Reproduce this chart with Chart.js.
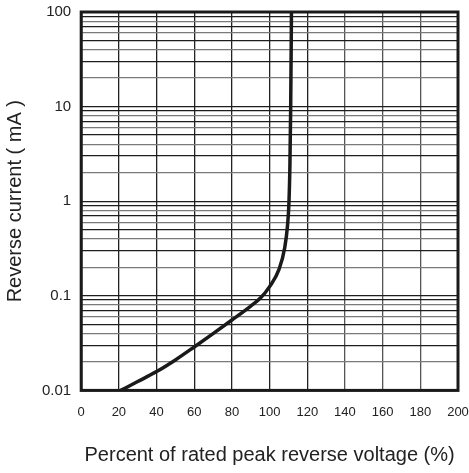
<!DOCTYPE html>
<html>
<head>
<meta charset="utf-8">
<script src="https://cdn.jsdelivr.net/npm/chart.js@4.4.0/dist/chart.umd.min.js"></script>
<style>
  body { margin: 0; background: #fff; }
  #wrap { width: 469px; height: 473px; }
</style>
</head>
<body>
<div id="wrap"><canvas id="myChart" width="469" height="473"></canvas></div>
<script>
// curve
var voltage = [21, 30, 40, 50, 60, 70, 80, 90, 95, 100, 105, 108, 109.5, 110.3, 110.8, 111.2, 111.6];
var current = [0.01, 0.0124, 0.0158, 0.021, 0.0288, 0.0398, 0.0555, 0.078, 0.094, 0.125, 0.19, 0.32, 0.55, 1, 2.5, 10, 100];

var xTicks = [0, 20, 40, 60, 80, 100, 120, 140, 160, 180, 200];
var decades = [0.01, 0.1, 1, 10, 100];
var multiples = [1, 2, 3, 4, 5, 6, 7, 8, 9];

var yTicks = [];
decades.forEach(function (d, i) {
  if (i === decades.length - 1) {
    yTicks.push(d);
  } else {
    multiples.forEach(function (m) { yTicks.push(+(d * m).toPrecision(3)); });
  }
});

var points = voltage.map(function (v, i) { return { x: v, y: current[i] }; });

const frame = {
  id: 'frame',
  afterDatasetsDraw(chart) {
    const { ctx, chartArea: { top, left, right, bottom } } = chart;
    ctx.save();
    ctx.strokeStyle = '#1a1a1a';
    ctx.lineWidth = 3;
    ctx.strokeRect(left, top, right - left, bottom - top);
    ctx.restore();
  }
};

var ctx = document.getElementById('myChart');
var myChart = new Chart(ctx, {
  type: 'scatter',
  data: {
    datasets: [{
      data: points,
      showLine: true,
      borderColor: '#1a1a1a',
      borderWidth: 3.5,
      pointRadius: 0,
      cubicInterpolationMode: 'monotone'
    }]
  },
  options: {
    responsive: false,
    animation: false,
    layout: { padding: { top: 3, right: 0, left: 3, bottom: 6 } },
    plugins: {
      legend: { display: false },
      tooltip: { enabled: false }
    },
    scales: {
      x: {
        type: 'linear',
        min: 0,
        max: 200,
        afterBuildTicks: function (axis) {
          axis.ticks = xTicks.map(function (v) { return { value: v }; });
        },
        afterFit: function (axis) {
          axis.paddingRight = 11;
        },
        grid: {
          lineWidth: 1.3,
          drawTicks: false,
          color: function (c) {
            return (c.tick && c.tick.value >= 140) ? '#555' : '#222';
          }
        },
        border: { display: false },
        ticks: {
          padding: 14,
          color: '#222',
          font: { family: "'Liberation Sans', Arial", size: 13 },
          maxRotation: 0
        },
        title: {
          display: true,
          text: 'Percent of rated peak reverse voltage (%)',
          color: '#222',
          font: { family: "'Liberation Sans', Arial", size: 20 },
          padding: { top: 9, bottom: 0 }
        }
      },
      y: {
        type: 'logarithmic',
        min: 0.01,
        max: 100,
        afterBuildTicks: function (axis) {
          axis.ticks = yTicks.map(function (v) { return { value: v }; });
        },
        afterFit: function (axis) {
          axis.paddingTop = 12;
          axis.paddingBottom = 0;
        },
        grid: {
          drawTicks: false,
          lineWidth: 1.3,
          color: function (c) {
            var v = c.tick ? c.tick.value : 0;
            var m = Math.round(v / Math.pow(10, Math.floor(Math.log10(v) + 1e-9)));
            return (m % 2 === 0) ? '#7a7a7a' : '#1e1e1e';
          }
        },
        border: { display: false },
        ticks: {
          padding: 10,
          color: '#222',
          autoSkip: false,
          font: { family: "'Liberation Sans', Arial", size: 15 },
          callback: function (v) {
            return decades.indexOf(v) >= 0 ? String(v) : '';
          }
        },
        title: {
          display: true,
          text: 'Reverse current ( mA )',
          color: '#222',
          font: { family: "'Liberation Sans', Arial", size: 20 },
          padding: { top: 0, bottom: 5 }
        }
      }
    }
  },
  plugins: [frame]
});
</script>
</body>
</html>
